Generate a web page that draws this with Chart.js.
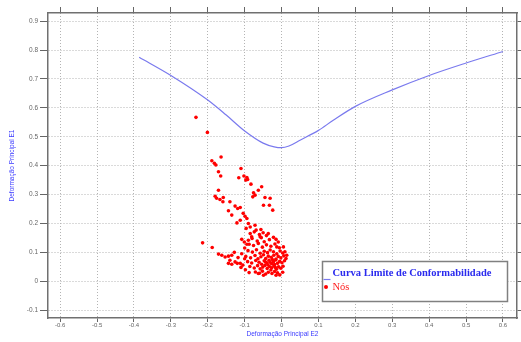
<!DOCTYPE html>
<html>
<head>
<meta charset="utf-8">
<script src="https://cdn.jsdelivr.net/npm/chart.js@4/dist/chart.umd.min.js"></script>
<style>
html,body{margin:0;padding:0;background:#fff;}
canvas{display:block;}
</style>
</head>
<body>
<canvas id="c" width="521" height="342"></canvas>
<script>
// Tick labels
const xTicks = [-0.6,-0.5,-0.4,-0.3,-0.2,-0.1,0,0.1,0.2,0.3,0.4,0.5,0.6];
const yTicks = [-0.1,0,0.1,0.2,0.3,0.4,0.5,0.6,0.7,0.8,0.9];

// Forming limit curve (E2, E1)
const curveE2 = [-0.386,-0.3,-0.2,-0.15,-0.1,-0.05,-0.02,0,0.02,0.05,0.1,0.14,0.2,0.3,0.4,0.5,0.6];
const curveE1 = [0.775,0.712,0.627,0.575,0.52,0.478,0.465,0.462,0.468,0.488,0.522,0.557,0.605,0.662,0.712,0.755,0.795];

// Nodes (E2, E1)
const nodeE2 = [
-0.232,-0.201,-0.164,-0.189,-0.182,-0.178,-0.171,-0.165,-0.110,-0.102,-0.094,-0.092,-0.097,-0.116,-0.083,-0.054,-0.063,-0.076,-0.072,-0.078,
-0.171,-0.180,-0.176,-0.167,-0.158,-0.159,-0.140,-0.045,-0.031,-0.049,-0.033,-0.024,-0.126,-0.112,-0.119,-0.144,-0.135,-0.104,-0.099,-0.094,
-0.112,-0.121,-0.090,-0.085,-0.096,-0.072,-0.069,-0.056,-0.085,-0.081,-0.058,-0.036,-0.022,-0.015,-0.009,-0.214,-0.188,-0.108,-0.101,-0.094,
-0.171,-0.162,-0.153,-0.144,-0.135,-0.140,-0.144,-0.135,-0.126,-0.120,-0.112,-0.105,0.005,0.009,0.014,-0.013,-0.063,-0.049,-0.015,
-0.088,-0.076,-0.063,-0.052,-0.041,-0.029,-0.018,-0.006,
-0.091,-0.079,-0.068,-0.058,-0.047,-0.038,-0.031,-0.022,-0.013,-0.004,0.003,
-0.097,-0.084,-0.072,-0.064,-0.056,-0.049,-0.043,-0.036,-0.028,-0.021,-0.015,-0.009,-0.002,0.006,0.012,
-0.092,-0.081,-0.070,-0.061,-0.054,-0.047,-0.040,-0.034,-0.027,-0.022,-0.016,-0.011,-0.005,0.001,0.008,-0.037,-0.031,-0.025,-0.019,-0.044,
-0.086,-0.074,-0.065,-0.058,-0.051,-0.045,-0.039,-0.033,-0.027,-0.021,-0.014,-0.008,-0.002,0.004,-0.029,-0.017,
-0.071,-0.060,-0.052,-0.043,-0.036,-0.026,-0.019,-0.011,-0.005,0.003,
-0.090,-0.080,-0.066,-0.055,-0.047,-0.033,-0.060,-0.074,-0.050,-0.041,
-0.108,-0.100,-0.110,-0.098,-0.088,-0.118,-0.128,-0.100
];
const nodeE1 = [
0.567,0.515,0.430,0.417,0.408,0.402,0.379,0.364,0.390,0.364,0.359,0.352,0.350,0.358,0.336,0.327,0.315,0.306,0.298,0.292,
0.315,0.294,0.287,0.283,0.290,0.275,0.275,0.290,0.287,0.263,0.263,0.246,0.260,0.255,0.252,0.244,0.229,0.235,0.225,0.217,
0.211,0.202,0.200,0.188,0.183,0.194,0.177,0.179,0.165,0.154,0.154,0.165,0.152,0.145,0.136,0.133,0.117,0.145,0.136,0.128,
0.094,0.090,0.084,0.087,0.090,0.073,0.062,0.059,0.067,0.062,0.062,0.056,0.119,0.102,0.090,0.119,0.027,0.021,0.021,
0.128,0.124,0.131,0.118,0.126,0.121,0.129,0.116,
0.106,0.101,0.109,0.097,0.104,0.099,0.108,0.102,0.095,0.105,0.098,
0.086,0.081,0.089,0.078,0.085,0.092,0.079,0.087,0.083,0.090,0.077,0.086,0.081,0.088,0.079,
0.068,0.063,0.072,0.066,0.059,0.071,0.064,0.073,0.061,0.068,0.074,0.062,0.069,0.064,0.071,0.057,0.066,0.075,0.058,0.067,
0.051,0.046,0.054,0.043,0.049,0.055,0.044,0.051,0.047,0.053,0.042,0.050,0.045,0.052,0.039,0.048,
0.032,0.028,0.035,0.025,0.031,0.027,0.034,0.029,0.022,0.031,
0.142,0.148,0.139,0.151,0.137,0.144,0.162,0.171,0.168,0.158,
0.095,0.078,0.048,0.040,0.030,0.082,0.100,0.115
];

const seriesNames = ['Curva Limite de Conformabilidade','Nós'];
const xTitle = 'Deformação Principal E2';
const yTitle = 'Deformação Principal E1';

const curveColor = '#7a7aee';
const nodeColor = '#ff0000';

const xy = (xs, ys) => xs.map((v,i)=>({x:v, y:ys[i]}));
const fmt = v => (Math.abs(v) < 1e-9 ? '0' : v.toFixed(1));
const xMin = -0.633, xMax = 0.638, yMin = -0.127, yMax = 0.928;

const legendPlugin = {
  id: 'boxLegend',
  afterDraw(chart) {
    const ctx = chart.ctx, ca = chart.chartArea;
    const x0 = ca.right - 194.5, y0 = ca.bottom - 56.5, w = 185, h = 40;
    ctx.save();
    ctx.fillStyle = '#fff';
    ctx.fillRect(x0, y0, w, h);
    ctx.strokeStyle = '#808080';
    ctx.lineWidth = 1.5;
    ctx.strokeRect(x0, y0, w, h);
    const ds = chart.data.datasets;
    // entry 1: line
    ctx.strokeStyle = ds[0].borderColor;
    ctx.lineWidth = 1.2;
    ctx.beginPath();
    ctx.moveTo(x0 + 1, y0 + 18);
    ctx.lineTo(x0 + 8, y0 + 18);
    ctx.stroke();
    ctx.textBaseline = 'middle';
    ctx.textAlign = 'left';
    ctx.font = 'bold 10.5px "Liberation Serif"';
    ctx.fillStyle = '#2a2aee';
    ctx.fillText(ds[0].label, x0 + 10, y0 + 12);
    // entry 2: point
    ctx.fillStyle = ds[1].backgroundColor;
    ctx.beginPath();
    ctx.arc(x0 + 3.5, y0 + 25.5, 2, 0, Math.PI * 2);
    ctx.fill();
    ctx.font = '10.5px "Liberation Serif"';
    ctx.fillStyle = '#ff2020';
    ctx.fillText(ds[1].label, x0 + 10, y0 + 25.5);
    ctx.restore();
  }
};

const setTicks = list => (scale => { scale.ticks = list.map(v => ({value: v})); });

new Chart(document.getElementById('c'), {
  type: 'scatter',
  data: {
    datasets: [
      {
        label: seriesNames[0],
        data: xy(curveE2, curveE1),
        showLine: true,
        borderColor: curveColor,
        borderWidth: 1.2,
        pointRadius: 0,
        cubicInterpolationMode: 'monotone',
        order: 1
      },
      {
        label: seriesNames[1],
        data: xy(nodeE2, nodeE1),
        backgroundColor: nodeColor,
        borderWidth: 0,
        pointRadius: 1.8,
        order: 2
      }
    ]
  },
  options: {
    responsive: false,
    animation: false,
    layout: { padding: 0 },
    plugins: { legend: { display: false }, tooltip: { enabled: false } },
    scales: {
      x: {
        type: 'linear', position: 'bottom', min: xMin, max: xMax,
        afterBuildTicks: setTicks(xTicks),
        afterFit: s => { s.height = 24; },
        ticks: { callback: v => fmt(v), font: { size: 6, family: 'Liberation Sans' }, color: '#666', padding: 0, maxRotation: 0, autoSkip: false },
        grid: { color: '#b4b4b4', lineWidth: 1, tickLength: 4, tickColor: '#666', tickBorderDash: [] },
        border: { display: true, color: '#707070', width: 1.5, dash: [1, 2] },
        title: { display: true, text: xTitle, color: '#3a3aff', font: { size: 6.5, family: 'Liberation Sans' }, padding: { top: 0, bottom: 4 } }
      },
      y: {
        type: 'linear', position: 'left', min: yMin, max: yMax,
        afterBuildTicks: setTicks(yTicks),
        afterFit: s => { s.width = 48; },
        ticks: { callback: v => fmt(v), font: { size: 6.5, family: 'Liberation Sans' }, color: '#666', padding: 2, autoSkip: false },
        grid: { color: '#b4b4b4', lineWidth: 1, tickLength: 8, tickColor: '#666', tickBorderDash: [] },
        border: { display: true, color: '#707070', width: 1.5, dash: [1, 2] },
        title: { display: true, text: yTitle, color: '#3a3aff', font: { size: 6.5, family: 'Liberation Sans' }, padding: { top: 8, bottom: 0 } }
      },
      x2: {
        type: 'linear', position: 'top', min: xMin, max: xMax,
        afterBuildTicks: setTicks(xTicks),
        afterFit: s => { s.height = 13; },
        ticks: { display: false },
        grid: { drawOnChartArea: false, tickLength: 6, tickColor: '#666' },
        border: { display: true, color: '#707070', width: 1.5 }
      },
      y2: {
        type: 'linear', position: 'right', min: yMin, max: yMax,
        afterBuildTicks: setTicks(yTicks),
        afterFit: s => { s.width = 4; },
        ticks: { display: false },
        grid: { drawOnChartArea: false, tickLength: 4, tickColor: '#666' },
        border: { display: true, color: '#707070', width: 1.5 }
      }
    }
  },
  plugins: [legendPlugin]
});
</script>
</body>
</html>
